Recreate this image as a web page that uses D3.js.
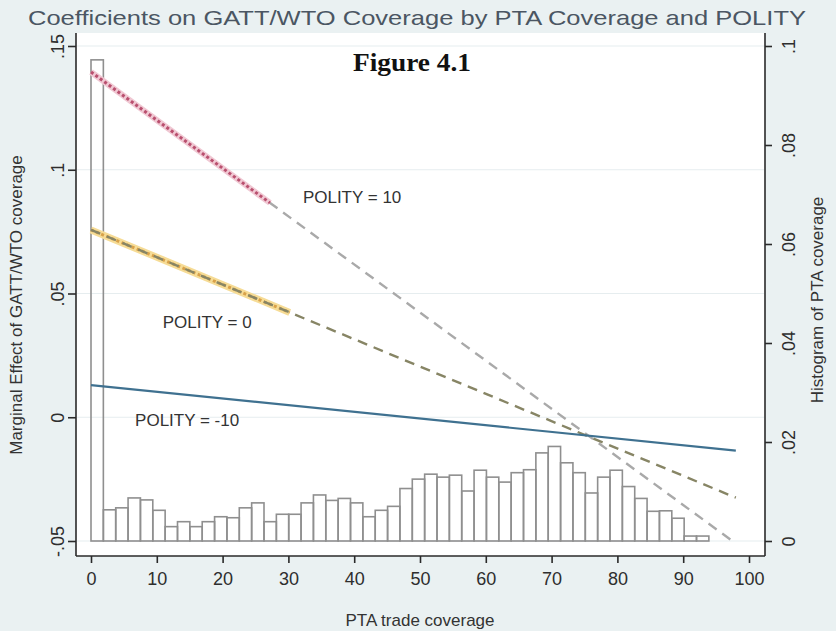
<!DOCTYPE html>
<html>
<head>
<meta charset="utf-8">
<script src="https://cdn.jsdelivr.net/npm/d3@7"></script>
<style>
  html, body { margin: 0; padding: 0; background: #eaf1f2; }
  svg { display: block; }
  text { font-family: "Liberation Sans", Arial, Helvetica, sans-serif; }
</style>
</head>
<body>
<svg id="chart" width="836" height="631"></svg>
<script>
// ---------------- data ----------------
const chartTitle = "Coefficients on GATT/WTO Coverage by PTA Coverage and POLITY";
const figureLabel = "Figure 4.1";
const xTitle = "PTA trade coverage";
const yLeftTitle = "Marginal Effect of GATT/WTO coverage";
const yRightTitle = "Histogram of PTA coverage";

const xTicks = [0, 10, 20, 30, 40, 50, 60, 70, 80, 90, 100];
const yLeftTicks = [-0.05, 0, 0.05, 0.1, 0.15];
const yLeftTickLabels = ["-.05", "0", ".05", ".1", ".15"];
const yRightTicks = [0, 0.02, 0.04, 0.06, 0.08, 0.1];
const yRightTickLabels = ["0", ".02", ".04", ".06", ".08", ".1"];

// histogram of PTA trade coverage (density), 50 bins starting at 0
const histStart = 0;
const histBinWidth = 1.878;
const histDensity = [
  0.0972, 0.0063, 0.0067, 0.0087, 0.0083, 0.0062, 0.0029, 0.0039, 0.0029, 0.0039,
  0.0049, 0.0047, 0.0067, 0.0077, 0.0039, 0.0054, 0.0054, 0.0077, 0.0093, 0.0082,
  0.0086, 0.0077, 0.0049, 0.0062, 0.0070, 0.0106, 0.0125, 0.0135, 0.0129, 0.0133,
  0.0101, 0.0143, 0.0129, 0.0119, 0.0138, 0.0144, 0.0178, 0.0191, 0.0158, 0.0138,
  0.0097, 0.0129, 0.0143, 0.0110, 0.0086, 0.0060, 0.0061, 0.0046, 0.0010, 0.0010
];

// marginal-effect lines by POLITY level
const polityLabels = ["POLITY = 10", "POLITY = 0", "POLITY = -10"];
const lineX = [0, 98];
const effectPolity10 = [0.1395, -0.0510];
const effectPolity0 = [0.0757, -0.0325];
const effectPolityNeg10 = [0.0130, -0.0135];
// range of PTA coverage where the effect is significant (highlighted segment)
const sigRangePolity10 = [0, 27.2];
const sigRangePolity0 = [0, 30.2];
// label anchors (data units: x, y)
const labelX = [32.2, 10.9, 6.7];
const labelY = [0.089, 0.0385, -0.0011];

// ---------------- layout ----------------
const svg = d3.select("#chart");
const W = 836, H = 631;
const plot = { left: 76, right: 765, top: 33, bottom: 556 };

const x = d3.scaleLinear().domain([0, 100]).range([91, 749]);
const yL = d3.scaleLinear().domain([-0.05, 0.15]).range([541, 46]);
const yR = d3.scaleLinear().domain([0, 0.1]).range([541, 46]);

svg.append("rect").attr("width", W).attr("height", H).attr("fill", "#eaf1f2");
svg.append("rect")
  .attr("x", plot.left).attr("y", plot.top)
  .attr("width", plot.right - plot.left).attr("height", plot.bottom - plot.top)
  .attr("fill", "#ffffff");

// gridlines
svg.append("g").selectAll("line").data(yLeftTicks).join("line")
  .attr("x1", plot.left + 1).attr("x2", plot.right - 1)
  .attr("y1", d => yL(d)).attr("y2", d => yL(d))
  .attr("stroke", "#e6edef").attr("stroke-width", 1.2);

// histogram
const bins = histDensity.map((d, i) => ({
  x0: histStart + i * histBinWidth,
  x1: histStart + (i + 1) * histBinWidth,
  d
}));
svg.append("g").selectAll("rect").data(bins).join("rect")
  .attr("x", b => x(b.x0))
  .attr("y", b => yR(b.d))
  .attr("width", b => x(b.x1) - x(b.x0))
  .attr("height", b => yR(0) - yR(b.d))
  .attr("fill", "none")
  .attr("stroke", "#8f8f8f")
  .attr("stroke-width", 1.6);

// lines
const lineGen = d3.line().x(d => x(d[0])).y(d => yL(d[1]));
function pts(vals) { return lineX.map((xv, i) => [xv, vals[i]]); }
function segment(vals, range) {
  const slope = (vals[1] - vals[0]) / (lineX[1] - lineX[0]);
  return range.map(xv => [xv, vals[0] + slope * (xv - lineX[0])]);
}
const lines = svg.append("g");

// POLITY = 10 : gray dashed full range + red dotted significant part
lines.append("path").attr("d", lineGen(pts(effectPolity10)))
  .attr("fill", "none").attr("stroke", "#a9a9a9").attr("stroke-width", 2.4)
  .attr("stroke-dasharray", "10,7");
lines.append("path").attr("d", lineGen(segment(effectPolity10, sigRangePolity10)))
  .attr("fill", "none").attr("stroke", "#f0c8d3").attr("stroke-width", 6);
lines.append("path").attr("d", lineGen(segment(effectPolity10, sigRangePolity10)))
  .attr("fill", "none").attr("stroke", "#b9506f").attr("stroke-width", 3)
  .attr("stroke-dasharray", "3,2.5");

// POLITY = 0 : yellow dotted significant part + olive dashed full range
lines.append("path").attr("d", lineGen(segment(effectPolity0, sigRangePolity0)))
  .attr("fill", "none").attr("stroke", "#f6dc96").attr("stroke-width", 7);
lines.append("path").attr("d", lineGen(segment(effectPolity0, sigRangePolity0)))
  .attr("fill", "none").attr("stroke", "#d9a24a").attr("stroke-width", 3)
  .attr("stroke-dasharray", "3,2.5");
lines.append("path").attr("d", lineGen(pts(effectPolity0)))
  .attr("fill", "none").attr("stroke", "#878565").attr("stroke-width", 2.4)
  .attr("stroke-dasharray", "10,7");

// POLITY = -10 : solid blue
lines.append("path").attr("d", lineGen(pts(effectPolityNeg10)))
  .attr("fill", "none").attr("stroke", "#3f7190").attr("stroke-width", 2.2);

// labels
svg.append("g").selectAll("text").data(polityLabels).join("text")
  .attr("x", (d, i) => x(labelX[i]))
  .attr("y", (d, i) => yL(labelY[i]))
  .attr("dy", "0.36em")
  .attr("font-size", 17)
  .attr("fill", "#333")
  .text(d => d);

// axes lines
svg.append("line").attr("x1", plot.left).attr("x2", plot.left)
  .attr("y1", plot.top).attr("y2", plot.bottom)
  .attr("stroke", "#2a2a2a").attr("stroke-width", 1.6);
svg.append("line").attr("x1", plot.right).attr("x2", plot.right)
  .attr("y1", plot.top).attr("y2", plot.bottom)
  .attr("stroke", "#2a2a2a").attr("stroke-width", 1.6);
svg.append("line").attr("x1", plot.left).attr("x2", plot.right)
  .attr("y1", plot.bottom).attr("y2", plot.bottom)
  .attr("stroke", "#2a2a2a").attr("stroke-width", 1.6);

// left axis
const gL = svg.append("g").attr("transform", `translate(${plot.left},0)`)
  .call(d3.axisLeft(yL).tickValues(yLeftTicks).tickSize(8)
    .tickFormat((d, i) => yLeftTickLabels[i]));
gL.select(".domain").remove();
gL.selectAll(".tick line").attr("stroke", "#2a2a2a").attr("stroke-width", 1.6);
gL.selectAll(".tick text")
  .attr("x", null).attr("dy", "0.36em")
  .attr("transform", "translate(-18,0) rotate(-90)")
  .attr("text-anchor", "middle")
  .attr("font-size", 18).attr("fill", "#2e2e2e")
  .attr("font-family", "Liberation Sans, Arial, sans-serif");

// right axis
const gR = svg.append("g").attr("transform", `translate(${plot.right},0)`)
  .call(d3.axisRight(yR).tickValues(yRightTicks).tickSize(7)
    .tickFormat((d, i) => yRightTickLabels[i]));
gR.select(".domain").remove();
gR.selectAll(".tick line").attr("stroke", "#2a2a2a").attr("stroke-width", 1.6);
gR.selectAll(".tick text")
  .attr("x", null).attr("dy", "0.36em")
  .attr("transform", "translate(24,0) rotate(-90)")
  .attr("text-anchor", "middle")
  .attr("font-size", 18).attr("fill", "#2e2e2e")
  .attr("font-family", "Liberation Sans, Arial, sans-serif");

// bottom axis
const gB = svg.append("g").attr("transform", `translate(0,${plot.bottom})`)
  .call(d3.axisBottom(x).tickValues(xTicks).tickSize(7).tickFormat(d3.format("d")));
gB.select(".domain").remove();
gB.selectAll(".tick line").attr("stroke", "#2a2a2a").attr("stroke-width", 1.6);
gB.selectAll(".tick text")
  .attr("y", 16)
  .attr("font-size", 18).attr("fill", "#2e2e2e")
  .attr("font-family", "Liberation Sans, Arial, sans-serif");

// titles
svg.append("text")
  .attr("x", 417).attr("y", 25)
  .attr("text-anchor", "middle")
  .attr("font-size", 21)
  .attr("fill", "#4b5663")
  .attr("textLength", 778).attr("lengthAdjust", "spacingAndGlyphs")
  .text(chartTitle);

svg.append("text")
  .attr("x", 412).attr("y", 71)
  .attr("text-anchor", "middle")
  .attr("font-size", 26)
  .attr("font-weight", "bold")
  .attr("fill", "#111")
  .style("font-family", "'Liberation Serif', 'Times New Roman', serif")
  .attr("textLength", 118).attr("lengthAdjust", "spacingAndGlyphs")
  .text(figureLabel);

svg.append("text")
  .attr("x", 420).attr("y", 626)
  .attr("text-anchor", "middle")
  .attr("font-size", 17)
  .attr("fill", "#333")
  .text(xTitle);

svg.append("text")
  .attr("transform", "translate(22,305) rotate(-90)")
  .attr("text-anchor", "middle")
  .attr("font-size", 17)
  .attr("fill", "#333")
  .text(yLeftTitle);

svg.append("text")
  .attr("transform", "translate(823,300) rotate(-90)")
  .attr("text-anchor", "middle")
  .attr("font-size", 17)
  .attr("fill", "#333")
  .text(yRightTitle);
</script>
</body>
</html>
